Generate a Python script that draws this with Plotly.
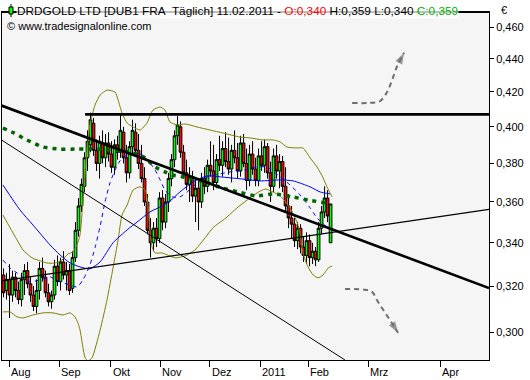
import plotly.graph_objects as go

# ---------------- data ----------------
opens = [.325,.318,.323,.316,.324,.318,.314,.323,.327,.321,.316,.311,.318,.328,.324,.317,.313,.316,.329,.322,
         .331,.325,.327,.319,.333,.346,.358,.368,.383,.390,.402,.387,.380,.391,.383,.391,.385,.378,.390,.386,
         .397,.383,.375,.389,.397,.387,.380,.372,.360,.346,.340,.347,.342,.362,.350,.360,.372,.382,.395,.400,
         .386,.375,.369,.373,.363,.367,.360,.372,.368,.379,.376,.370,.382,.379,.388,.381,.377,.387,.383,.376,
         .391,.380,.371,.385,.377,.371,.384,.379,.389,.375,.368,.384,.376,.381,.368,.358,.352,.349,.341,.347,
         .338,.334,.341,.333,.336,.332,.347,.355,.362,.340]
highs = [.328,.326,.330,.327,.326,.322,.326,.330,.331,.324,.320,.323,.331,.333,.327,.321,.318,.332,.334,.333,
         .336,.331,.330,.336,.350,.362,.372,.386,.398,.408,.405,.393,.395,.398,.396,.397,.392,.393,.395,.407,
         .400,.390,.392,.404,.402,.396,.390,.378,.364,.352,.350,.352,.365,.366,.364,.375,.385,.398,.406,.403,
         .390,.382,.378,.376,.372,.371,.375,.378,.382,.392,.390,.385,.395,.392,.397,.394,.390,.398,.391,.395,
         .396,.388,.390,.392,.383,.388,.392,.393,.391,.381,.388,.390,.385,.384,.378,.364,.358,.352,.350,.349,
         .343,.345,.344,.340,.338,.350,.358,.368,.366,.359]
lows = [.315,.314,.306,.313,.315,.312,.311,.316,.319,.313,.309,.308,.314,.322,.315,.311,.310,.314,.320,.318,
        .323,.318,.316,.317,.331,.343,.355,.365,.376,.386,.384,.376,.372,.380,.378,.381,.375,.374,.382,.383,
        .380,.370,.372,.385,.384,.377,.370,.358,.344,.333,.336,.338,.340,.346,.347,.355,.368,.378,.390,.383,
        .372,.366,.360,.360,.350,.346,.357,.364,.365,.373,.366,.367,.376,.373,.378,.374,.370,.380,.372,.373,
        .378,.366,.368,.374,.368,.368,.376,.375,.372,.360,.365,.372,.367,.365,.355,.347,.342,.338,.337,.335,
        .331,.330,.329,.330,.329,.331,.344,.352,.350,.340]
closes = [.317,.323,.316,.324,.318,.314,.323,.327,.321,.316,.311,.318,.328,.324,.317,.313,.316,.329,.322,.331,
          .325,.327,.318,.333,.346,.358,.369,.383,.392,.404,.387,.380,.392,.383,.391,.385,.378,.390,.386,.398,
          .383,.375,.389,.398,.387,.380,.372,.360,.346,.340,.347,.342,.362,.350,.360,.372,.382,.395,.401,.386,
          .375,.369,.373,.363,.367,.360,.372,.368,.379,.376,.370,.382,.379,.388,.381,.377,.387,.383,.376,.391,
          .380,.371,.385,.377,.371,.384,.379,.389,.375,.368,.384,.376,.381,.368,.358,.352,.349,.341,.347,.338,
          .334,.341,.333,.336,.332,.347,.355,.362,.353,.359]
bar_idx = list(range(len(opens)))

# Bollinger bands (olive)
bb_up_x = [-0.2,2.2,4.5,6.5,9.5,12.2,14.5,17.2,19.5,21.5,23.2,24.5,25.5,26.5,27.5,28.8,30.5,32.2,34.5,37.2,
           38.2,39.5,41.2,43.2,45.5,47.8,49.8,52.2,53.8,55.5,58,60.5,64.5,68.8,73.2,78.8,82.2,86.5,89.8,92.2,
           94.5,97.8,99.8,102.2,104.5,106.5,107.8,109.5]
bb_up_y = [.3535,.3472,.3414,.3366,.3329,.3315,.3305,.3305,.3319,.3347,.3357,.3390,.3438,.3610,.3818,.4010,.4124,.4182,.4211,.4199,
           .4153,.4078,.4021,.3999,.3982,.4021,.4095,.4112,.4095,.4027,.4010,.4016,.3999,.3982,.3965,.3943,.3938,.3927,.3927,.3916,
           .3888,.3883,.3883,.3829,.3781,.3724,.3677,.3626]
bb_lo_x = [-0.2,2.2,4.5,6.5,9.8,13.2,16.5,19.8,22.2,23.8,24.8,25.5,27.2,28.2,29.5,32.2,34.5,36.5,38.2,39.5,
           41.2,43.2,45.5,47.2,48.2,48.8,49.5,50.5,52.8,54.5,57.2,60.5,63.8,67.2,69.8,74.5,77.8,81.2,84.5,87.2,
           89.8,92.2,95.5,97.8,98.8,99.8,101.5,103.2,104.8,106.5,108.2,109.5]
bb_lo_y = [.3086,.3086,.3065,.3060,.3073,.3082,.3082,.3073,.3082,.3065,.3039,.3009,.2894,.2881,.2894,.3009,.3139,.3282,.3414,.3535,
           .3585,.3661,.3677,.3661,.3575,.3462,.3381,.3352,.3352,.3343,.3329,.3338,.3366,.3424,.3472,.3525,.3570,.3610,.3646,.3666,
           .3651,.3631,.3570,.3500,.3448,.3352,.3287,.3250,.3237,.3250,.3282,.3291]

# slow moving average (blue, solid)
ma_slow_x = [-0.2,5.5,9.8,15.5,18.8,22.2,25.5,28.8,32.2,36.5,41.2,44.5,48.8,52.2,55.5,58.8,63.2,67.8,72.2,78.8,
             85.5,92.2,96.5,102.2,105.5,108.8]
ma_slow_y = [.3687,.3560,.3486,.3390,.3343,.3305,.3287,.3278,.3310,.3400,.3462,.3500,.3550,.3575,.3605,.3651,.3703,.3734,.3729,.3719,
             .3708,.3713,.3708,.3677,.3651,.3641]

# fast moving average (blue, dashed)
ma_fast_x = [-0.2,2.2,5.5,8.8,12.2,15.5,18.8,22.2,24.5,26.5,28.8,30.5,32.2,33.8,35.5,37.2,38.8,41.2,43.8,46.2,
             48.8,50.5,52.2,53.8,56.2,58.8,61.2,63.8,67.2,70.5,75.5,80.5,84.8,87.8,92.2,95.5,98.8,102.2,104.5,106.2,108.8]
ma_fast_y = [.3319,.3282,.3250,.3219,.3228,.3241,.3219,.3205,.3196,.3228,.3296,.3376,.3480,.3598,.3698,.3765,.3813,.3845,.3856,.3845,
             .3802,.3765,.3713,.3661,.3626,.3626,.3651,.3687,.3724,.3739,.3755,.3765,.3781,.3781,.3729,.3687,.3636,.3570,.3520,.3496,.3462]

# long moving average (dark green, thick dotted)
ma_long_x = [-0.2,2.8,7.8,13.2,18.8,24.8,31.2,37.2,43.2,47.2,50.5,53.8,56.2,61.5,67.2,72.8,78.2,84.2,89.8,96.2,101.5,107.5]
ma_long_y = [.3993,.3971,.3927,.3888,.3877,.3877,.3877,.3872,.3856,.3829,.3781,.3755,.3739,.3724,.3703,.3672,.3651,.3631,.3641,.3626,.3610,.3595]

# drawn trend lines  (start/end index, start/end price)
resist_x, resist_y = [27.2, 161.8], [0.407, 0.407]
trend_thick_x, trend_thick_y = [-1.17, 161.8], [0.4124, 0.3191]
trend_down_x, trend_down_y = [-1.17, 113.8], [0.3932, 0.2885]
trend_up_x, trend_up_y = [-1.17, 161.8], [0.3222, 0.3563]

# forecast arrows
arrow_up_x = [116.2, 121.8, 125.5, 127.8, 129.5, 131.2, 133.5]
arrow_up_y = [0.4136, 0.4136, 0.4147, 0.4199, 0.4270, 0.4355, 0.4438]
arrow_dn_x = [113.8, 120.5, 122.8, 124.8, 127.2, 129.2, 131.5]
arrow_dn_y = [0.3187, 0.3183, 0.3174, 0.3130, 0.3082, 0.3043, 0.2997]

# axis ticks
month_pos = [1.93, 18.6, 35.7, 52.2, 68.8, 85.5, 101.5, 121.5, 145.5]
month_labels = ["Aug", "Sep", "Okt", "Nov", "Dez", "2011", "Feb", "Mrz", "Apr"]
price_ticks = [0.30, 0.32, 0.34, 0.36, 0.38, 0.40, 0.42, 0.44, 0.46]
price_labels = ["0,300", "0,320", "0,340", "0,360", "0,380", "0,400", "0,420", "0,440", "0,460"]

FONT = "Liberation Sans"

fig = go.Figure()

fig.add_trace(go.Candlestick(
    x=bar_idx, open=opens, high=highs, low=lows, close=closes,
    increasing=dict(fillcolor="#00ff00", line=dict(color="#000000", width=1)),
    decreasing=dict(fillcolor="#ff0000", line=dict(color="#000000", width=1)),
    whiskerwidth=0, hoverinfo="skip"))

fig.add_trace(go.Scatter(x=bb_up_x, y=bb_up_y, mode="lines",
                         line=dict(color="#808000", width=1, shape="spline", smoothing=0.6)))
fig.add_trace(go.Scatter(x=bb_lo_x, y=bb_lo_y, mode="lines",
                         line=dict(color="#808000", width=1, shape="spline", smoothing=0.6)))
fig.add_trace(go.Scatter(x=ma_slow_x, y=ma_slow_y, mode="lines",
                         line=dict(color="#0000ff", width=1, shape="spline", smoothing=0.6)))
fig.add_trace(go.Scatter(x=ma_fast_x, y=ma_fast_y, mode="lines",
                         line=dict(color="#0000ff", width=1, dash="4px,4px", shape="spline", smoothing=0.6)))
fig.add_trace(go.Scatter(x=ma_long_x, y=ma_long_y, mode="lines",
                         line=dict(color="#006400", width=3.5, dash="4px,5px", shape="spline", smoothing=0.6)))

fig.add_trace(go.Scatter(x=trend_down_x, y=trend_down_y, mode="lines", line=dict(color="black", width=1)))
fig.add_trace(go.Scatter(x=trend_up_x, y=trend_up_y, mode="lines", line=dict(color="black", width=1.2)))
fig.add_trace(go.Scatter(x=trend_thick_x, y=trend_thick_y, mode="lines", line=dict(color="black", width=2.6)))
fig.add_trace(go.Scatter(x=resist_x, y=resist_y, mode="lines", line=dict(color="black", width=2.6)))

for ax, ay in ((arrow_up_x, arrow_up_y), (arrow_dn_x, arrow_dn_y)):
    sizes = [0] * (len(ax) - 1) + [12]
    fig.add_trace(go.Scatter(
        x=ax, y=ay, mode="lines+markers",
        line=dict(color="#6e6e6e", width=2, dash="5px,4px", shape="spline"),
        marker=dict(symbol="arrow", angleref="previous", size=sizes, color="#6e6e6e",
                    line=dict(width=0))))

annotations = []
for pos, lab in zip(month_pos, month_labels):
    annotations.append(dict(x=pos, xref="x", y=0, yref="paper", text=lab, showarrow=False,
                            xanchor="left", yanchor="top", xshift=0, yshift=-4,
                            font=dict(family=FONT, size=11, color="black")))

title_txt = ("DRDGOLD LTD [DUB1 FRA&nbsp; Täglich] 11.02.2011 - "
             "<span style='color:#ff0000'>O:0,340</span> H:0,359 L:0,340 "
             "<span style='color:#00b000'>C:0,359</span>")
annotations.append(dict(x=0, xref="paper", y=1, yref="paper", text=title_txt, showarrow=False,
                        xanchor="left", yanchor="middle", xshift=14, yshift=1.5,
                        bgcolor="rgba(255,255,255,0.75)", borderpad=0,
                        font=dict(family=FONT, size=11.8, color="black")))
annotations.append(dict(x=0, xref="paper", y=1, yref="paper", text="© www.tradesignalonline.com",
                        showarrow=False, xanchor="left", yanchor="middle", xshift=3, yshift=-14,
                        font=dict(family=FONT, size=11, color="black")))
annotations.append(dict(x=1, xref="paper", y=1, yref="paper", text="€", showarrow=False,
                        xanchor="left", yanchor="middle", xshift=10, yshift=2,
                        font=dict(family=FONT, size=11, color="black")))

shapes = [
    dict(type="line", xref="paper", yref="paper", x0=0, x1=1, y0=1, y1=1,
         line=dict(color="black", width=2), layer="above"),
    dict(type="line", xref="paper", yref="paper", x0=0.0185, x1=0.0185, y0=0.9856, y1=1.0230,
         line=dict(color="black", width=1)),
    dict(type="rect", xref="paper", yref="paper", x0=0.0144, x1=0.0226, y0=0.9943, y1=1.0144,
         fillcolor="#00ff00", line=dict(color="black", width=1)),
]

fig.update_layout(
    width=530, height=380,
    margin=dict(l=2, r=41, t=12, b=20),
    paper_bgcolor="white", plot_bgcolor="#f5f5f5",
    showlegend=False,
    boxgap=0.1, boxgroupgap=0,
    font=dict(family=FONT, size=11, color="black"),
    annotations=annotations, shapes=shapes,
)
fig.update_xaxes(range=[-0.5, 161.8], showgrid=False, zeroline=False,
                 showline=True, linecolor="black", linewidth=1, mirror=True,
                 tickvals=month_pos, ticks="outside", ticklen=6, tickcolor="black",
                 showticklabels=False, rangeslider_visible=False)
fig.update_yaxes(type="log", range=[-0.53985, -0.32809], side="right",
                 tickvals=price_ticks, ticktext=price_labels,
                 ticks="outside", ticklen=4, tickcolor="black",
                 showgrid=False, zeroline=False,
                 showline=True, linecolor="black", linewidth=1, mirror=True,
                 tickfont=dict(family=FONT, size=11, color="black"))

fig.write_html("out.html")
